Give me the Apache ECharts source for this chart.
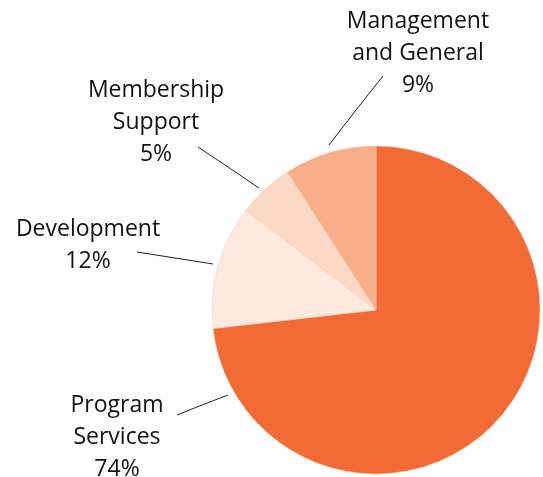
<!DOCTYPE html>
<html>
<head>
<meta charset="utf-8">
<script src="https://cdn.jsdelivr.net/npm/echarts@6/dist/echarts.min.js"></script>
<style>
  html, body { margin: 0; padding: 0; background: #fff; }
  #chart { width: 543px; height: 477px; }
</style>
</head>
<body>
<div id="chart"></div>
<script>
// slices, clockwise from 12 o'clock
var names = ['Program\nServices', 'Development', 'Membership\nSupport', 'Management\nand General'];
var shares = [73.2, 12.2, 5.5, 9.1];
var pctLabels = ['74%', '12%', '5%', '9%'];
var colors = ['#f26a35', '#fde9de', '#fcd9c6', '#f9ae8a'];

// where each label sits and how its leader line runs
var labelSpots = [
    { x: 117, y: 437, line: [[177, 415], [202, 405], [228, 395]] },
    { x: 88, y: 245, line: [[137, 252], [175, 258], [213, 264]] },
    { x: 156, y: 122, line: [[198, 147], [228, 167], [259, 188]] },
    { x: 418, y: 53, line: [[383, 76], [356, 110], [329, 145]] }
];

var chart = echarts.init(document.getElementById('chart'));

var pieData = [];
for (var i = 0; i < names.length; i++) {
    pieData.push({
        name: names[i],
        value: shares[i],
        pct: pctLabels[i],
        itemStyle: { color: colors[i] }
    });
}

var option = {
    animation: false,
    series: [{
        type: 'pie',
        center: [376, 310],
        radius: 164,
        startAngle: 90,
        clockwise: true,
        avoidLabelOverlap: false,
        data: pieData,
        itemStyle: { borderColor: '#fbc9b0', borderWidth: 0.5 },
        label: {
            show: true,
            position: 'outside',
            color: '#111',
            fontFamily: 'Open Sans',
            fontSize: 23,
            lineHeight: 32,
            align: 'center',
            formatter: function (p) {
                return p.name + '\n' + p.data.pct;
            }
        },
        labelLine: {
            show: true,
            lineStyle: { color: '#222', width: 1 }
        },
        labelLayout: function (p) {
            var s = labelSpots[p.dataIndex];
            return {
                x: s.x,
                y: s.y,
                align: 'center',
                verticalAlign: 'middle',
                hideOverlap: false,
                labelLinePoints: s.line
            };
        },
        emphasis: { disabled: true }
    }]
};

chart.setOption(option);
</script>
</body>
</html>
